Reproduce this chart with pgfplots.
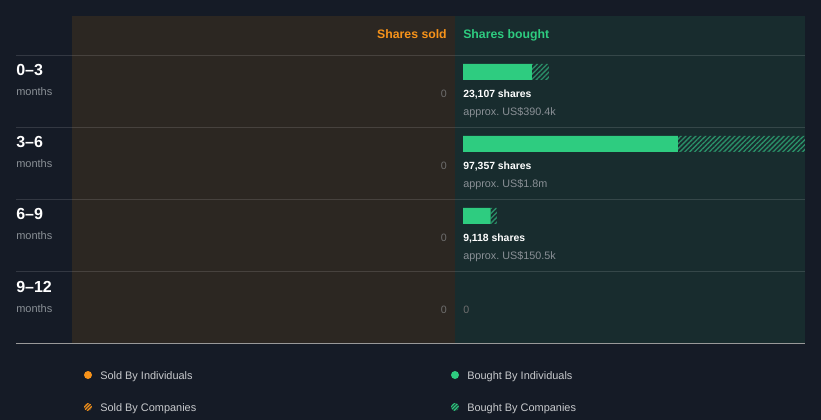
\documentclass[border=0pt]{standalone}
\usepackage{fontspec}
\setmainfont{Liberation Sans}
\usepackage{pgfplots}
\pgfplotsset{compat=1.18}
\usetikzlibrary{patterns.meta}
\definecolor{bg}{HTML}{151B26}
\definecolor{soldbg}{HTML}{2C2722}
\definecolor{boughtbg}{HTML}{182C2E}
\definecolor{myorange}{HTML}{F7931A}
\definecolor{mygreen}{HTML}{2ECC80}
\definecolor{hatchgreen}{HTML}{2A8F68}
\definecolor{subgray}{HTML}{8A9096}
\definecolor{zerogray}{HTML}{6E6E6E}
\definecolor{leggray}{HTML}{C8CACD}
\frenchspacing
\begin{document}
\begin{tikzpicture}[x=0.75pt,y=-0.75pt]
\fill[bg] (0,0) rectangle (821,420);
\path[use as bounding box] (0,0) rectangle (821,420);
\fill[soldbg] (72,16) rectangle (455,343);
\fill[boughtbg] (455,16) rectangle (805,343);
\foreach \yy in {56,128,200,272} {\draw[white, opacity=0.13, line width=0.75pt] (16,\yy) -- (805,\yy);}
\draw[color=gray!80, line width=0.75pt] (16,343) -- (805,343);
% headers
\node[anchor=base east, inner sep=0, text=myorange, font=\bfseries\fontsize{9.2}{10}\selectfont] at (447,39) {Shares sold};
\node[anchor=base west, inner sep=0, text=mygreen, font=\bfseries\fontsize{9.2}{10}\selectfont] at (463,39) {Shares bought};
% row labels
\foreach \lab [count=\i from 0] in {0--3,3--6,6--9,9--12} {
  \node[anchor=base west, inner sep=0, text=white, font=\bfseries\fontsize{12}{13}\selectfont] at (16,76+72*\i) {\lab};
  \node[anchor=base west, inner sep=0, text=subgray, font=\fontsize{8.25}{9}\selectfont] at (16,96+72*\i) {months};
  \node[anchor=base east, inner sep=0, text=zerogray, font=\fontsize{8}{9}\selectfont] at (447,98+72*\i) {0};
}
\node[anchor=base west, inner sep=0, text=zerogray, font=\fontsize{8}{9}\selectfont] at (463,314) {0};
% bar labels
\foreach \sh/\ap [count=\i from 0] in {23{,}107/390.4k,97{,}357/1.8m,9{,}118/150.5k} {
  \node[anchor=base west, inner sep=0, text=white, font=\bfseries\fontsize{7.8}{9}\selectfont] at (463,98+72*\i) {\sh\ shares};
  \node[anchor=base west, inner sep=0, text=subgray, font=\fontsize{8.1}{9}\selectfont] at (463,116+72*\i) {approx.\ US\$\ap};
}
\begin{axis}[at={(347.25pt,-27pt)}, anchor=north west, width=256.5pt, height=216pt, scale only axis,
  xmin=0, xmax=91900, ymin=-0.5, ymax=3.5, y dir=reverse, hide axis, xbar stacked, bar width=12pt]
\addplot[fill=mygreen, draw=none] coordinates {(18540,0) (57765,1) (7440,2) (0,3)};
\addplot[draw=none, pattern={Lines[angle=45,distance=2.6pt,line width=1pt]}, pattern color=hatchgreen] coordinates {(4567,0) (39592,1) (1678,2) (0,3)};
\end{axis}
% legend
\fill[myorange] (88,375) circle (4);
\fill[myorange!25!bg] (88,407) circle (4);
\fill[pattern={Lines[angle=45,distance=1.8pt,line width=0.8pt]}, pattern color=myorange] (88,407) circle (4);
\fill[mygreen] (455,375) circle (4);
\fill[mygreen!25!bg] (455,407) circle (4);
\fill[pattern={Lines[angle=45,distance=1.8pt,line width=0.8pt]}, pattern color=mygreen] (455,407) circle (4);
\node[anchor=base west, inner sep=0, text=leggray, font=\fontsize{8.2}{9}\selectfont] at (100,379) {Sold By Individuals};
\node[anchor=base west, inner sep=0, text=leggray, font=\fontsize{8.2}{9}\selectfont] at (100,411) {Sold By Companies};
\node[anchor=base west, inner sep=0, text=leggray, font=\fontsize{8.2}{9}\selectfont] at (467,379) {Bought By Individuals};
\node[anchor=base west, inner sep=0, text=leggray, font=\fontsize{8.2}{9}\selectfont] at (467,411) {Bought By Companies};
\end{tikzpicture}
\end{document}
